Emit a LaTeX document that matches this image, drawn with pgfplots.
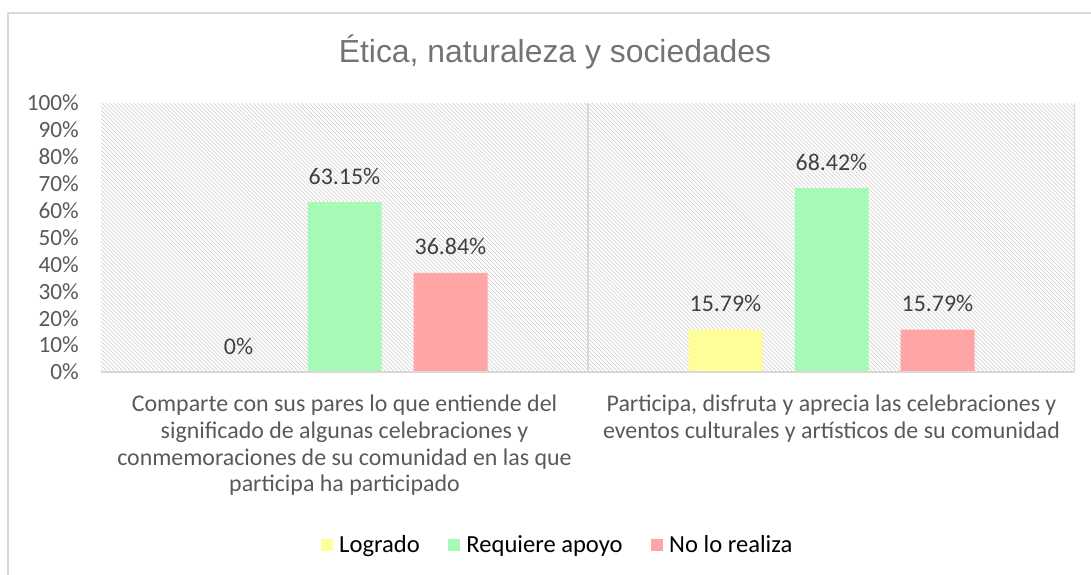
\documentclass[border=0pt]{standalone}
\usepackage{pgfplots}
\pgfplotsset{compat=1.18}
\usetikzlibrary{patterns}
\usepackage{fontspec}
\setmainfont{Carlito}
\newfontfamily\titlefont{Liberation Sans}

\definecolor{logrado}{HTML}{FFFF99}
\definecolor{apoyo}{HTML}{A6FAB5}
\definecolor{norealiza}{HTML}{FFA5A5}
\definecolor{txtgray}{HTML}{595959}
\definecolor{linegray}{HTML}{D9D9D9}

\begin{document}
\begin{tikzpicture}
% frame of the chart area (only left and top edges are visible)
\useasboundingbox (-75.75bp,-152.25bp) rectangle (742.5bp,279bp);
\draw[linegray, line width=1.5bp] (-69.75bp,-152.25bp) -- (-69.75bp,269.6bp) -- (742.5bp,269.6bp);
\node[font=\titlefont\fontsize{24}{28}\selectfont, text=black!55] at (340.5bp,240bp) {Ética, naturaleza y sociedades};

\begin{axis}[
    at={(0,0)}, anchor=south west,
    scale only axis,
    width=730.5bp, height=201.75bp,
    xmin=0.5, xmax=2.5,
    ymin=0, ymax=100,
    ybar=24bp,
    bar width=55.5bp,
    axis line style={draw=none},
    axis background/.style={pattern=north west lines, pattern color=black!20},
    major tick length=0pt,
    xtick={1,2},
    xticklabels={
        {Comparte con sus pares lo que entiende del\\significado de algunas celebraciones y\\conmemoraciones de su comunidad en las que\\participa ha participado},
        {Participa, disfruta y aprecia las celebraciones y\\eventos culturales y artísticos de su comunidad}},
    xticklabel style={align=center, anchor=north, yshift=-14bp, text=txtgray,
        font=\fontsize{18}{20}\selectfont},
    ytick={0,10,...,100},
    yticklabel={\pgfmathprintnumber{\tick}\%},
    yticklabel style={anchor=east, inner sep=0pt, xshift=-16.5bp, text=txtgray,
        font=\fontsize{17.5}{20}\selectfont},
    /pgf/number format/assume math mode=true,
    point meta=explicit symbolic,
    nodes near coords,
    every node near coord/.append style={anchor=center, yshift=19.5bp, text=black!75,
        font=\fontsize{18}{20}\selectfont},
    legend style={at={(0.469,-0.643)}, anchor=center, draw=none, fill=none,
        legend columns=3, font=\fontsize{18.5}{20}\selectfont,
        /tikz/every odd column/.append style={column sep=3bp},
        /tikz/every even column/.append style={column sep=19bp}},
    legend image code/.code={\fill[#1] (0bp,-4.5bp) rectangle (9bp,4.5bp);},
]
\addplot[draw=none, fill=logrado] coordinates {(1,0) [0\%] (2,15.79) [15.79\%]};
\addplot[draw=none, fill=apoyo] coordinates {(1,63.15) [63.15\%] (2,68.42) [68.42\%]};
\addplot[draw=none, fill=norealiza] coordinates {(1,36.84) [36.84\%] (2,15.79) [15.79\%]};

% category separators and base line
\draw[linegray, line width=1.5bp] (axis cs:1.5,0) -- (axis cs:1.5,100);
\draw[linegray, line width=1.5bp] (axis cs:2.5,0) -- (axis cs:2.5,100);
\draw[linegray, line width=1.5bp] (axis cs:0.5,0) -- (axis cs:2.5,0);

\legend{Logrado, Requiere apoyo, No lo realiza}
\end{axis}
\end{tikzpicture}
\end{document}
